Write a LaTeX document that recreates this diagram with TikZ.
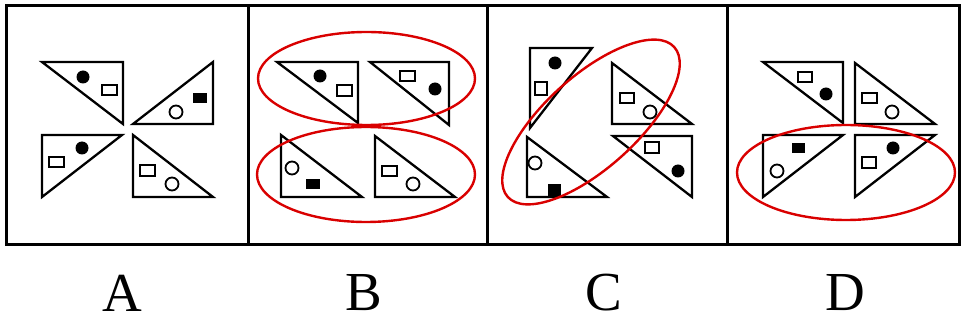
\documentclass[tikz,border=0pt]{standalone}
\usepackage{fontspec}
\setmainfont{Liberation Serif}

\begin{document}
\begin{tikzpicture}[
  x=1pt, y=-1pt,
  frame/.style={draw=black, line width=3pt},
  tri/.style={draw=black, line width=2.3pt, line join=miter},
  ring/.style={draw=black, line width=1.8pt},
  dot/.style={fill=black},
  sel/.style={draw=red!85!black, line width=2.4pt},
  lbl/.style={font=\fontsize{55}{58}\selectfont, inner sep=0pt}
]
\useasboundingbox (0,0) rectangle (962,323);

% Panels
\draw[frame] (6,6) rectangle (959,245);
\draw[frame] (248,6) -- (248,245);
\draw[frame] (487,6) -- (487,245);
\draw[frame] (727,6) -- (727,245);

% Panel A
\draw[tri] (42,62) -- (123,62) -- (123,124) -- cycle;
\fill[dot] (83,77) circle (6.5);
\draw[ring] (102,85) rectangle (117,95);
\draw[tri] (133,124) -- (213,124) -- (213,62) -- cycle;
\draw[ring] (176,112) circle (6.5);
\fill[dot] (193,93) rectangle (207,103);
\draw[tri] (42,135) -- (122,135) -- (42,197) -- cycle;
\fill[dot] (82,148) circle (6.5);
\draw[ring] (49,157) rectangle (64,167);
\draw[tri] (133,135) -- (133,197) -- (213,197) -- cycle;
\draw[ring] (140,165) rectangle (155,176);
\draw[ring] (172,184) circle (6.5);

% Panel B
\draw[tri] (277,62) -- (358,62) -- (358,123) -- cycle;
\fill[dot] (320,76) circle (6.5);
\draw[ring] (337,85) rectangle (352,96);
\draw[tri] (370,62) -- (449,62) -- (449,125) -- cycle;
\draw[ring] (400,71) rectangle (415,81);
\fill[dot] (435,89) circle (6.5);
\draw[tri] (281,135) -- (281,197) -- (362,197) -- cycle;
\draw[ring] (292,168) circle (6.5);
\fill[dot] (306,179) rectangle (320,189);
\draw[tri] (375,136) -- (375,197) -- (455,197) -- cycle;
\draw[ring] (382,166) rectangle (397,176);
\draw[ring] (413,184) circle (6.5);
\draw[sel] (366.5,78.5) ellipse [x radius=108.5, y radius=46.5];
\draw[sel] (366,174.5) ellipse [x radius=109, y radius=47.5];

% Panel C
\draw[tri] (530,48) -- (592,48) -- (530,128) -- cycle;
\fill[dot] (555,63) circle (6.5);
\draw[ring] (535,82) rectangle (547,95);
\draw[tri] (612,63) -- (612,124) -- (692,124) -- cycle;
\draw[ring] (620,93) rectangle (634,103);
\draw[ring] (650,112) circle (6.5);
\draw[tri] (527,137) -- (527,197) -- (607,197) -- cycle;
\draw[ring] (535,163) circle (6.5);
\fill[dot] (548,184) rectangle (561,197);
\draw[tri] (613,136) -- (692,136) -- (692,197) -- cycle;
\draw[ring] (645,142) rectangle (659,153);
\fill[dot] (678,171) circle (6.5);
\draw[sel, rotate around={42:(591,122)}] (591,122) ellipse [x radius=112, y radius=46];

% Panel D
\draw[tri] (763,62) -- (843,62) -- (843,123) -- cycle;
\draw[ring] (798,72) rectangle (812,82);
\fill[dot] (826,94) circle (6.5);
\draw[tri] (855,63) -- (855,124) -- (935,124) -- cycle;
\draw[ring] (862,93) rectangle (877,103);
\draw[ring] (892,112) circle (6.5);
\draw[tri] (763,135) -- (843,135) -- (763,197) -- cycle;
\fill[dot] (792,143) rectangle (805,153);
\draw[ring] (777,171) circle (6.5);
\draw[tri] (855,135) -- (935,135) -- (855,197) -- cycle;
\draw[ring] (862,157) rectangle (876,168);
\fill[dot] (893,148) circle (6.5);
\draw[sel] (846,172.5) ellipse [x radius=109, y radius=47.5];

% Labels
\node[lbl] (labA) at (122,293) {A};
\node[lbl] (labB) at (364,293) {B};
\node[lbl] (labC) at (604,293) {C};
\node[lbl] (labD) at (845,293) {D};
\end{tikzpicture}
\end{document}
